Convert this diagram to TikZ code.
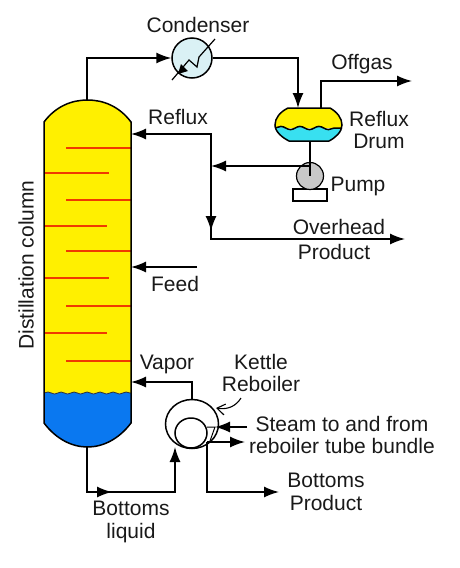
\documentclass[tikz,border=0pt]{standalone}
\usepackage{fontspec}
\setmainfont{Liberation Sans}
\usepackage{xcolor}
\usetikzlibrary{arrows.meta}
\usetikzlibrary{shapes.geometric}
\usetikzlibrary{decorations.pathmorphing}
\tikzset{>={Latex[length=15pt,width=11pt]}}
\definecolor{liqyellow}{HTML}{FFF000}
\definecolor{liqblue}{HTML}{0A78F0}
\definecolor{liqcyan}{HTML}{38E0F0}
\definecolor{trayred}{HTML}{F03A00}
\definecolor{condfill}{HTML}{DAF1F5}
\definecolor{pumpfill}{HTML}{C8C8C8}

\begin{document}
\begin{tikzpicture}[x=1pt, y=-1pt, line width=1.5pt,
    font=\fontsize{21}{22.5}\selectfont]

  \tikzset{lbl/.style={inner sep=0pt, align=center, text=black!90},
           tray/.style={trayred, line width=1.6pt},
           wave/.style={decoration={snake, segment length=13pt, amplitude=1pt}},
           bigwave/.style={decoration={snake, segment length=19pt, amplitude=1.6pt}}}

  \useasboundingbox (0,0) rectangle (460,568);

  % distillation column
  \fill[liqyellow] (44,122) .. controls (56,106) and (72,100) .. (87.5,100)
    .. controls (103,100) and (119,106) .. (131,122) -- (131,393) -- (44,393) -- cycle;
  \fill[liqblue] (44,393) decorate[wave] {-- (131,393)} -- (131,423)
    .. controls (119,439) and (103,447) .. (87.5,447)
    .. controls (72,447) and (56,439) .. (44,423) -- cycle;
  \draw[line width=0.8pt, black!80] (44,393) decorate[wave] {-- (131,393)};
  \foreach \xa/\xb/\y in {66/131/148, 44/109/173, 66/131/200, 44/107/226, 66/131/251,
      44/109/278, 66/131/306, 44/107/333, 66/131/361} {
    \draw[tray] (\xa,\y) -- (\xb,\y);
  }
  \draw (44,122) .. controls (56,106) and (72,100) .. (87.5,100)
    .. controls (103,100) and (119,106) .. (131,122) -- (131,423)
    .. controls (119,439) and (103,447) .. (87.5,447)
    .. controls (72,447) and (56,439) .. (44,423) -- cycle;
  \node[lbl, rotate=90] (collabel) at (26,265) {Distillation column};

  \coordinate (coltop) at (87,100);
  \coordinate (colbot) at (87,447);
  \coordinate (refluxin) at (131,134);
  \coordinate (feedin) at (131,267);
  \coordinate (vaporin) at (131,382);

  % condenser
  \node[circle, draw, fill=condfill, minimum size=40pt, inner sep=0pt] (cond) at (192,58) {};
  \coordinate (condlow) at (172,80);
  \coordinate (condhigh) at (215,39);
  \draw[line width=1.2pt] (condhigh) -- (199,57) -- (197,67) -- (189,60) -- (condlow);
  \fill (178,74) -- (181,64) -- (188,71) -- cycle;
  \node[lbl] (condlabel) at (198,25) {Condenser};

  % reflux drum
  \fill[liqyellow] (288,108) -- (330,108) .. controls (337,112) and (342,118) .. (342,128)
    -- (275,128) .. controls (275,118) and (280,112) .. (288,108) -- cycle;
  \fill[liqcyan] (275,128) decorate[bigwave] {-- (342,128)}
    .. controls (340,134) and (335,138) .. (329,141) -- (289,141)
    .. controls (283,138) and (277,134) .. (275,128) -- cycle;
  \draw (275,128) decorate[bigwave] {-- (342,128)};
  \draw (288,108) -- (330,108) .. controls (337,112) and (342,118) .. (342,125)
    .. controls (342,132) and (335,138) .. (329,141) -- (289,141)
    .. controls (283,138) and (275,132) .. (275,125)
    .. controls (275,118) and (280,112) .. (288,108) -- cycle;
  \coordinate (drumin) at (298,108);
  \coordinate (drumgas) at (321,108);
  \coordinate (drumout) at (310,141);
  \node[lbl] (drumlabel) at (379,130) {Reflux\\Drum};
  \node[lbl] (reflabel) at (178,117) {Reflux};

  % pump
  \node[rectangle, draw, fill=white, minimum width=34pt, minimum height=12pt,
        inner sep=0pt, line width=1.2pt] (pumpbase) at (310,195) {};
  \node[circle, draw, fill=pumpfill, minimum size=27pt, inner sep=0pt,
        line width=1.2pt] (pump) at (310,176) {};
  \draw (drumout) -- (pump.center);
  \node[lbl] (pumplabel) at (358,186) {Pump};

  % reboiler
  \node[ellipse, draw, fill=white, minimum width=53pt, minimum height=49pt, inner sep=0pt] (shell) at (192,424) {};
  \node[ellipse, draw, fill=white, minimum width=32pt, minimum height=30pt, inner sep=0pt] (tube) at (191,433) {};
  \coordinate (steamfree) at (247,427);
  \coordinate (steamin) at (215,427);
  \coordinate (steamjoin) at (207,427);
  \coordinate (steamfrom) at (207,442);
  \coordinate (steamout) at (245,442);
  \coordinate (botin) at (175,447);
  \coordinate (botcorner) at (175,492);
  \coordinate (botmid) at (112,492);
  \coordinate (prodout) at (279,492);
  \draw[line width=1pt] (steamjoin) -- (steamin) -- (210,441);
  \node[lbl] (ketlabel) at (261,373) {Kettle\\Reboiler};
  \node[lbl] (steamlabel) at (342,435) {Steam to and from\\reboiler tube bundle};
  \node[lbl] (vaporlabel) at (167,364) {Vapor};
  \node[lbl] (prodlabel) at (326,492) {Bottoms\\Product};
  \node[lbl] (liqlabel) at (131,522) {Bottoms\\liquid};

  % the streams
  \draw[->] (coltop) |- (cond.west);
  \draw[->] (cond.east) -| (drumin);
  \coordinate (offgasout) at (412,81);
  \draw[->] (drumgas) |- (offgasout);
  \node[lbl] (offlabel) at (362,64) {Offgas};

  \coordinate (pumpout) at (310,166);
  \coordinate (branch) at (211,166);
  \coordinate (refcorner) at (211,134);
  \coordinate (ohcorner) at (211,239);
  \coordinate (ohmid) at (211,231);
  \coordinate (ohout) at (405,239);
  \draw[->] (pumpout) -- (branch);
  \draw[->] (branch) -- (refcorner) -- (refluxin);
  \draw[->] (branch) -- (ohmid);
  \draw[->] (branch) |- (ohout);
  \node[lbl] (ohlabel) at (339,227) {Overhead};
  \node[lbl] (ohprod) at (334,252) {Product};

  \coordinate (feedfree) at (197,267);
  \draw[->] (feedfree) -- (feedin);
  \node[lbl] (feedlabel) at (175,284) {Feed};

  \draw[->] (shell.north) |- (vaporin);
  \draw[->] (colbot) |- (botmid);
  \draw[->] (colbot) |- (botcorner) -- (botin);
  \draw[->] (steamfree) -- (steamin);
  \draw[->] (steamfrom) -- (steamout);
  \draw[->] (steamfrom) |- (prodout);
  \coordinate (ketfree) at (241,398);
  \coordinate (kettip) at (216,408);
  \draw[-{Straight Barb[length=8pt,width=11pt]}, line width=1.1pt] (ketfree) .. controls (236,406) and (228,410) .. (kettip);

\end{tikzpicture}
\end{document}
